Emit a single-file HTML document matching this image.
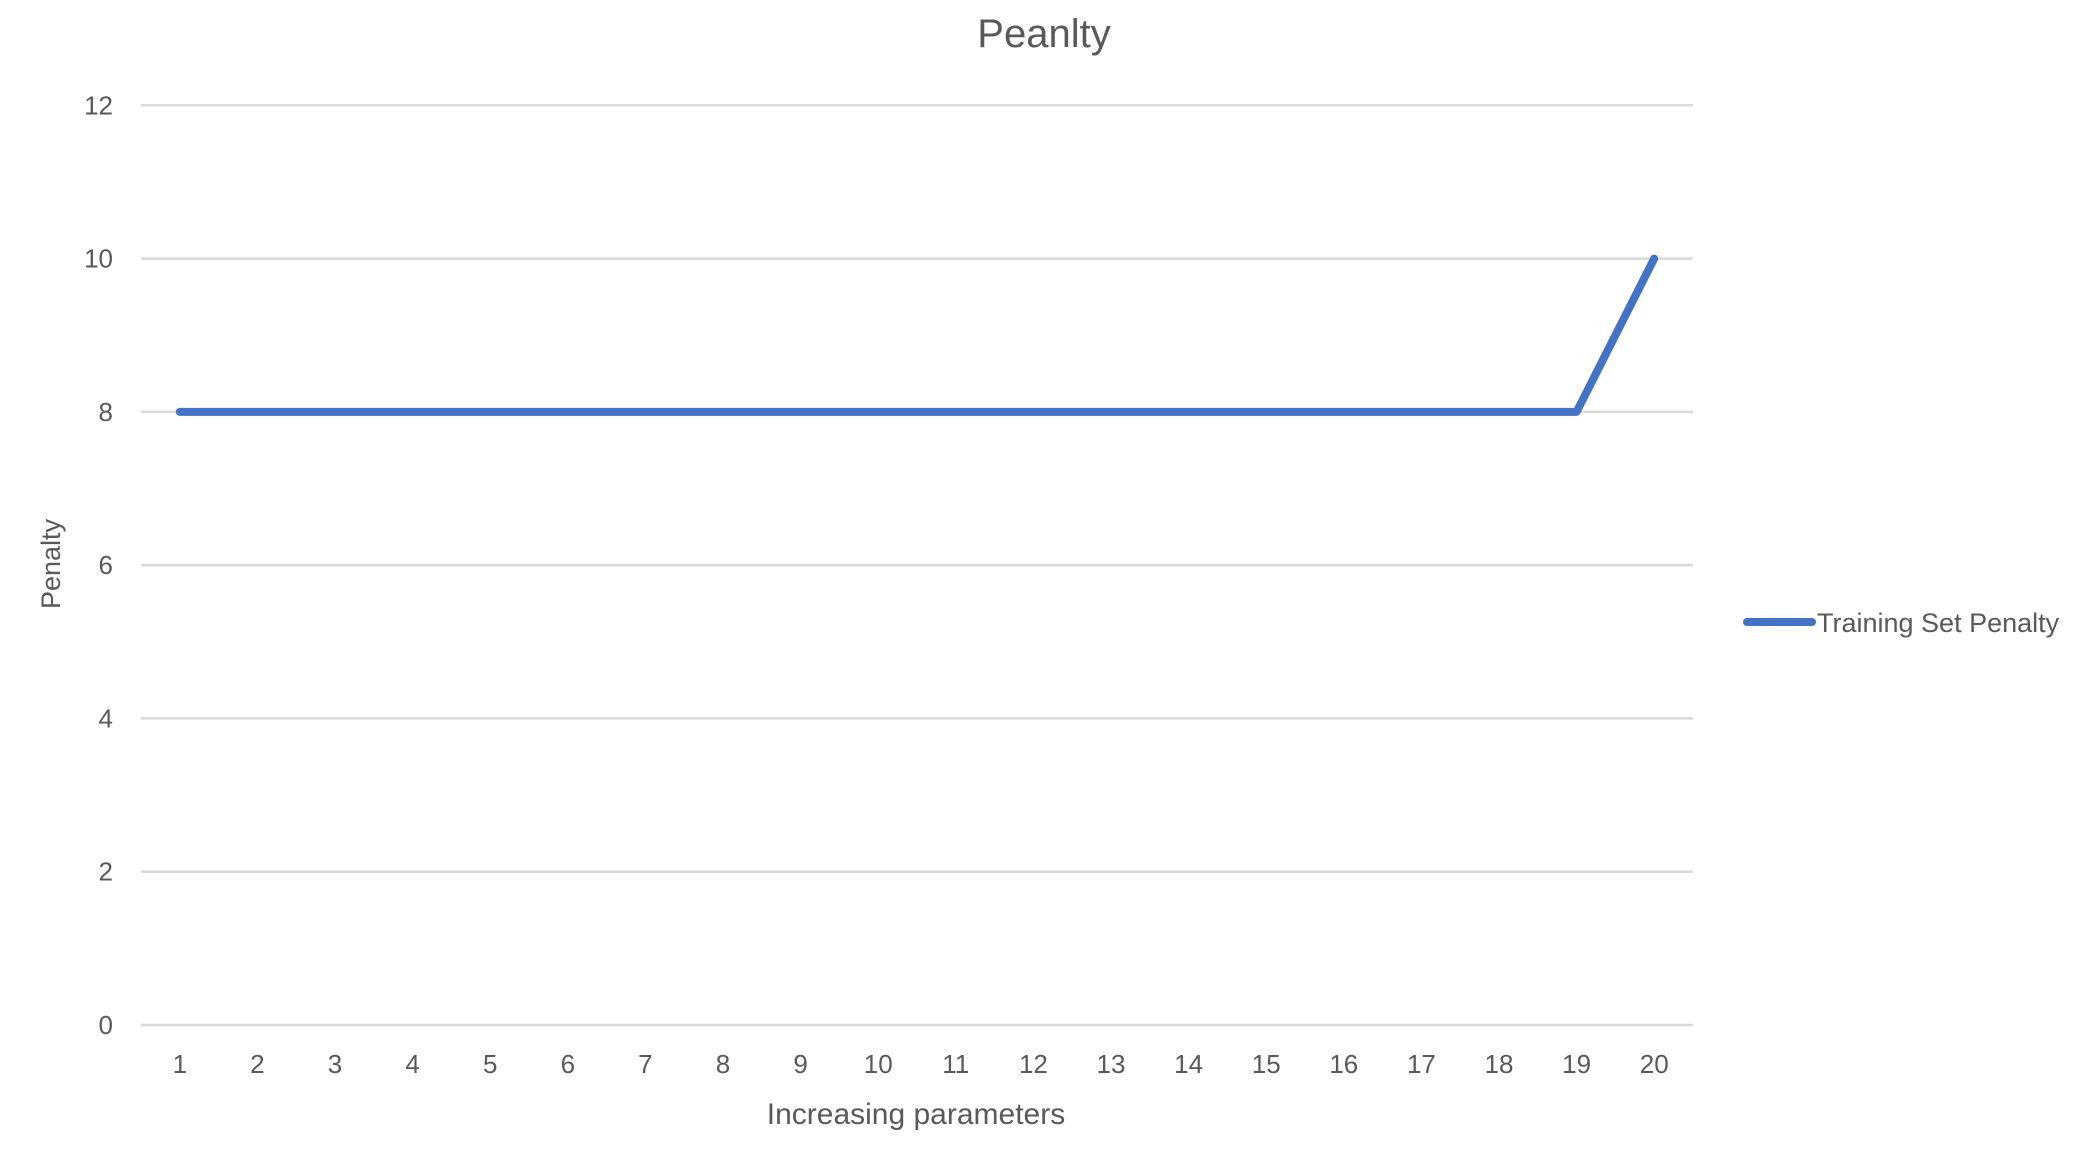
<!DOCTYPE html>
<html><head><meta charset="utf-8"><style>
body{margin:0;background:#fff;}
svg text{font-family:"Liberation Sans",sans-serif;fill:#595959;}
</style></head><body>
<svg id="chart" width="2091" height="1169" xmlns="http://www.w3.org/2000/svg">
<text x="1044" y="47" font-size="40" text-anchor="middle">Peanlty</text>
<g id="grid"></g>
<g id="yticks"></g>
<g id="xticks"></g>
<g id="series"></g>
<text transform="translate(60,564) rotate(-90)" font-size="27" text-anchor="middle">Penalty</text>
<text x="916" y="1124" font-size="30" text-anchor="middle">Increasing parameters</text>
<g>
<line x1="1747" y1="622" x2="1812" y2="622" stroke="#4472C4" stroke-width="8" stroke-linecap="round"/>
<text x="1817" y="632" font-size="27">Training Set Penalty</text>
</g>
</svg>
<script>
const categories=[1,2,3,4,5,6,7,8,9,10,11,12,13,14,15,16,17,18,19,20];
const values=[8,8,8,8,8,8,8,8,8,8,8,8,8,8,8,8,8,8,8,10];
const yTicks=[0,2,4,6,8,10,12];
const NS="http://www.w3.org/2000/svg";
const L=141,R=1693,T=105.3,B=1025,yMax=12;
const band=(R-L)/categories.length;
const xs=i=>L+band*(i+0.5);
const ys=v=>B-(v/yMax)*(B-T);
const grid=document.getElementById('grid'),yt=document.getElementById('yticks'),xt=document.getElementById('xticks'),se=document.getElementById('series');
yTicks.forEach(t=>{
const l=document.createElementNS(NS,'line');


l.setAttribute('x1',L);l.setAttribute('x2',R);l.setAttribute('y1',ys(t));l.setAttribute('y2',ys(t));
l.setAttribute('stroke','#d9d9d9');l.setAttribute('stroke-width','2.5');
grid.appendChild(l);
const tx=document.createElementNS(NS,'text');


tx.setAttribute('x',113);tx.setAttribute('y',ys(t)+9);tx.setAttribute('font-size','26');tx.setAttribute('text-anchor','end');
tx.textContent=t;yt.appendChild(tx);
});
categories.forEach((c,i)=>{
const tx=document.createElementNS(NS,'text');


tx.setAttribute('x',xs(i));tx.setAttribute('y',1073);tx.setAttribute('font-size','26');tx.setAttribute('text-anchor','middle');
tx.textContent=c;xt.appendChild(tx);
});
const p=document.createElementNS(NS,'polyline');


p.setAttribute('points',values.map((v,i)=>xs(i)+','+ys(v)).join(' '));
p.setAttribute('fill','none');p.setAttribute('stroke','#4472C4');p.setAttribute('stroke-width','8');
p.setAttribute('stroke-linecap','round');p.setAttribute('stroke-linejoin','round');
se.appendChild(p);
</script>
</body></html>
